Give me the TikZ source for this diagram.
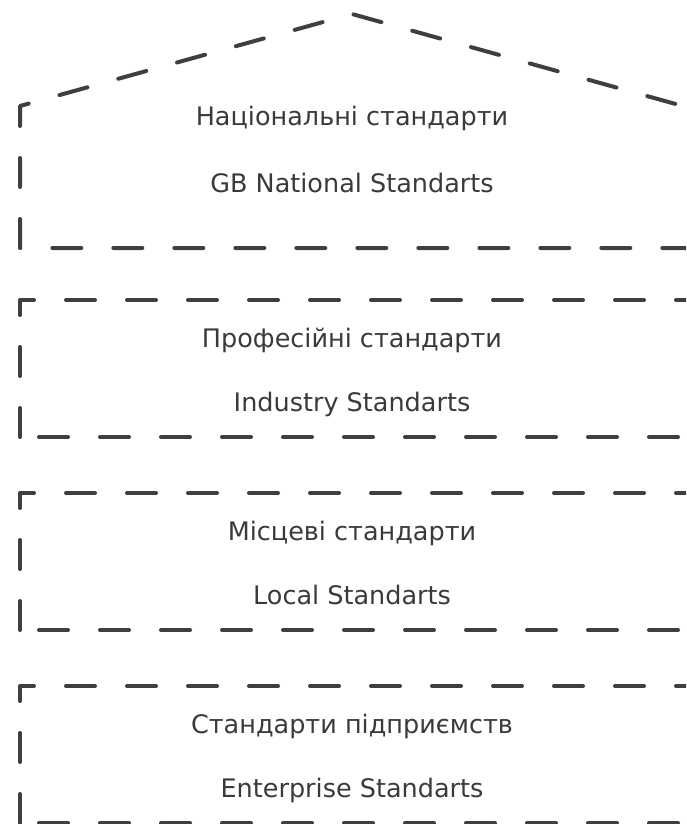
\documentclass[tikz,border=0pt]{standalone}
\usepackage{fontspec}
\setmainfont{DejaVu Sans}
\definecolor{dashcol}{HTML}{3F3F3F}
\definecolor{textcol}{HTML}{3A3A3A}
\begin{document}
\begin{tikzpicture}[x=1pt,y=-1pt,
  frame/.style={draw=dashcol,line width=4pt,line cap=round,line join=round,dash pattern=on 29pt off 32pt},
  label/.style={text=textcol,font=\fontsize{25.5}{30}\selectfont,anchor=base,inner sep=0pt}]
\useasboundingbox (0,0) rectangle (686,824);
\clip (0,0) rectangle (686,824);
% top pentagon
\draw[frame] (20,248) -- (20,106) -- (352,14) -- (690,108) -- (690,248) -- cycle;
\node[label] (n1) at (352,126) {Національні стандарти};
\node[label] (n2) at (352,192) {GB National Standarts};
% box 2
\draw[frame] (20,437) -- (20,300) -- (700,300) -- (700,437) -- cycle;
\node[label] (p1) at (352,347) {Професійні стандарти};
\node[label] (p2) at (352,411) {Industry Standarts};
% box 3
\draw[frame] (20,630) -- (20,493) -- (700,493) -- (700,630) -- cycle;
\node[label] (l1) at (352,540) {Місцеві стандарти};
\node[label] (l2) at (352,604) {Local Standarts};
% box 4
\draw[frame] (20,823) -- (20,686) -- (700,686) -- (700,823) -- cycle;
\node[label] (e1) at (352,733) {Стандарти підприємств};
\node[label] (e2) at (352,797) {Enterprise Standarts};
\end{tikzpicture}
\end{document}
